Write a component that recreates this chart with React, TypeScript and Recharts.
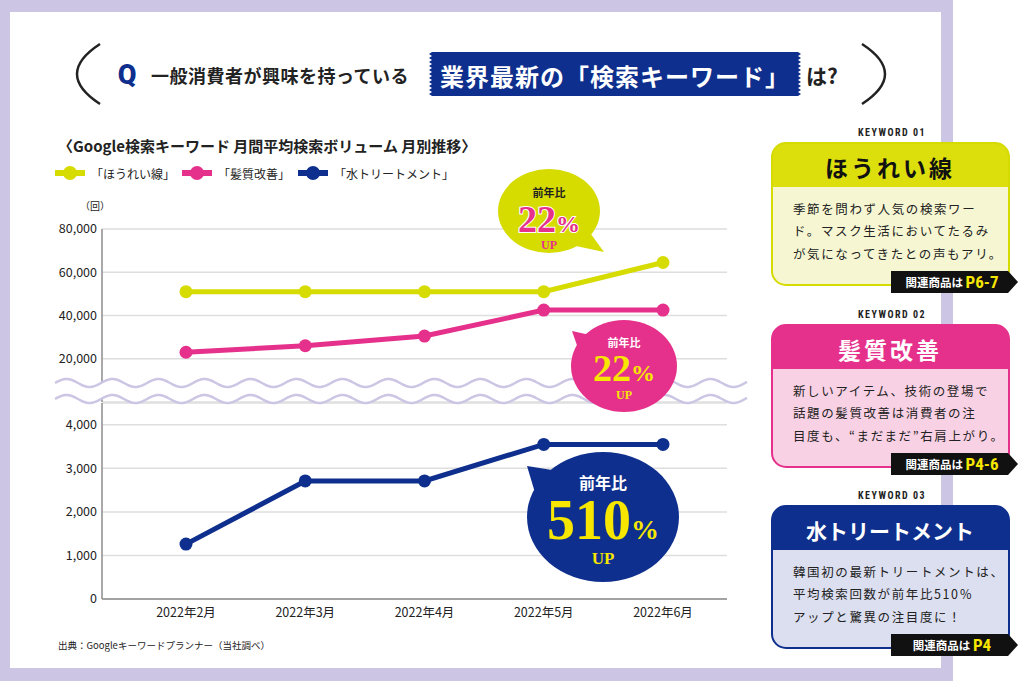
import { LineChart, Line, XAxis, YAxis, CartesianGrid } from 'recharts';

// chart values
const months = ['2022年2月', '2022年3月', '2022年4月', '2022年5月', '2022年6月'];
const houreisen = [51000, 51000, 51000, 51000, 64500];
const kamishitsu = [23000, 26000, 30500, 42500, 42500];
const mizuTreatment = [1260, 2710, 2710, 3550, 3550];
const upperTicks = [20000, 40000, 60000, 80000];
const lowerTicks = [0, 1000, 2000, 3000, 4000];
const seriesNames = ['「ほうれい線」', '「髪質改善」', '「水トリートメント」'];

const YELLOW = '#d6db00';
const PINK = '#e5318b';
const NAVY = '#0e2f8d';
const LAVENDER = '#ccc5e3';
const BUBBLE_YELLOW = '#f7e600';
const JP = "'Noto Sans CJK JP', 'Noto Sans', sans-serif";
const NARROW = "'Liberation Sans Narrow', 'Roboto Condensed', 'Noto Sans CJK JP', sans-serif";
const SERIF = "'Liberation Serif', 'DejaVu Serif', serif";

const upperData = months.map((m, i) => ({ month: m, hourei: houreisen[i], kami: kamishitsu[i] }));
const lowerData = months.map((m, i) => ({ month: m, mizu: mizuTreatment[i] }));

const fmt = (v: number) => v.toLocaleString('en-US');
const tickStyle = { fontSize: 12.5, fill: '#222', fontFamily: JP };
const axisStyle = { stroke: '#8c8c8c', strokeWidth: 1.5 };

const cards = [
  {
    kw: 'KEYWORD 01', title: 'ほうれい線', page: 'P6-7', top: 143,
    head: '#dcdf0c', body: '#f6f6d2', border: '#d5da00', titleColor: '#111',
    lines: ['季節を問わず人気の検索ワー', 'ド。マスク生活においてたるみ', 'が気になってきたとの声もアリ。'],
  },
  {
    kw: 'KEYWORD 02', title: '髪質改善', page: 'P4-6', top: 325,
    head: PINK, body: '#f9d1e4', border: PINK, titleColor: '#fff',
    lines: ['新しいアイテム、技術の登場で', '話題の髪質改善は消費者の注', '目度も、“まだまだ”右肩上がり。'],
  },
  {
    kw: 'KEYWORD 03', title: '水トリートメント', page: 'P4', top: 506,
    head: NAVY, body: '#dcdff0', border: NAVY, titleColor: '#fff',
    lines: ['韓国初の最新トリートメントは、', '平均検索回数が前年比510％', 'アップと驚異の注目度に！'],
  },
];

function wavePoints(y: number) {
  const pts: number[][] = [];
  for (let x = 55; x <= 748; x += 2) {
    pts.push([x, y - 4 * Math.sin(((x - 55) / 46) * 2 * Math.PI)]);
  }
  return pts;
}

function bannerPoints() {
  const top = 52, bottom = 96, l = 432, r = 798;
  const pts: number[][] = [[l, top], [r, top]];
  for (let y = top; y < bottom; y += 4) pts.push([r + 3, y + 2], [r, y + 4]);
  pts.push([l, bottom]);
  for (let y = bottom; y > top; y -= 4) pts.push([l - 3, y - 2], [l, y - 4]);
  return pts.map(p => p.join(',')).join(' ');
}

function Bubble({ cx, cy, rx, ry, tail, fill, head, headColor, num, numSize, pct, pctSize, numColor, up, upSize, numY, upY, headY, headSize, outline }: any) {
  return (
    <g>
      <polygon points={tail} fill={fill} />
      <ellipse cx={cx} cy={cy} rx={rx} ry={ry} fill={fill} />
      <text x={cx} y={headY} textAnchor="middle" dominantBaseline="central" fontFamily={JP} fontWeight={700} fontSize={headSize} fill={headColor}>{head}</text>
      <text x={cx} y={numY} textAnchor="middle" fontFamily={SERIF} fontWeight={700} fill={numColor}
        stroke={outline ? '#fff' : 'none'} strokeWidth={outline ? 2 : 0} paintOrder="stroke">
        <tspan fontSize={numSize}>{num}</tspan>
        <tspan fontSize={pctSize}>{pct}</tspan>
      </text>
      <text x={cx} y={upY} textAnchor="middle" fontFamily={SERIF} fontWeight={700} fontSize={upSize} fill={numColor}>{up}</text>
    </g>
  );
}

export default function App() {
  const w1 = wavePoints(383);
  const w2 = wavePoints(399);
  const toD = (pts: number[][]) => 'M' + pts.map(p => `${p[0]} ${p[1].toFixed(1)}`).join(' L');
  const band = toD(w1) + ' L' + [...w2].reverse().map(p => `${p[0]} ${p[1].toFixed(1)}`).join(' L') + ' Z';
  const legendX = [55, 182, 298];
  const colors = [YELLOW, PINK, NAVY];

  return (
    <div style={{ position: 'absolute', left: 0, top: 0, width: 1019, height: 681, overflow: 'hidden', background: '#fff' }}>
      <svg width={1019} height={681} style={{ position: 'absolute', left: 0, top: 0 }}>
        <rect x={0} y={0} width={953} height={681} fill={LAVENDER} />
        <rect x={10} y={12} width={931} height={656} fill="#fff" />
      </svg>

      <div style={{ position: 'absolute', left: 0, top: 0 }}>
        <LineChart width={760} height={420} data={upperData} margin={{ top: 229, right: 33, bottom: 18, left: 0 }}>
          <CartesianGrid vertical={false} stroke="#dedede" strokeWidth={1.5} />
          <XAxis dataKey="month" hide scale="point" padding={{ left: 84, right: 64 }} />
          <YAxis width={102} domain={[0, 80000]} ticks={upperTicks} interval={0} tickFormatter={fmt}
            axisLine={axisStyle} tickLine={false} tickSize={0} tickMargin={5} tick={tickStyle} />
          <Line dataKey="hourei" stroke={YELLOW} strokeWidth={5} isAnimationActive={false} activeDot={false}
            dot={{ r: 6.5, fill: YELLOW, stroke: YELLOW, strokeWidth: 0 }} />
          <Line dataKey="kami" stroke={PINK} strokeWidth={5} isAnimationActive={false} activeDot={false}
            dot={{ r: 6.5, fill: PINK, stroke: PINK, strokeWidth: 0 }} />
        </LineChart>
      </div>

      <div style={{ position: 'absolute', left: 0, top: 0 }}>
        <LineChart width={760} height={681} data={lowerData} margin={{ top: 403, right: 33, bottom: 52, left: 0 }}>
          <CartesianGrid vertical={false} stroke="#dedede" strokeWidth={1.5} />
          <XAxis dataKey="month" scale="point" padding={{ left: 84, right: 64 }} height={30}
            axisLine={axisStyle} tickLine={false} tickSize={6} tickMargin={3} tick={tickStyle} interval={0} />
          <YAxis width={102} domain={[0, 4500]} ticks={lowerTicks} interval={0} tickFormatter={fmt}
            axisLine={axisStyle} tickLine={false} tickSize={0} tickMargin={5} tick={tickStyle} />
          <Line dataKey="mizu" stroke={NAVY} strokeWidth={5} isAnimationActive={false} activeDot={false}
            dot={{ r: 6.5, fill: NAVY, stroke: NAVY, strokeWidth: 0 }} />
        </LineChart>
      </div>

      <svg width={1019} height={681} style={{ position: 'absolute', left: 0, top: 0, pointerEvents: 'none' }}>
        {/* header */}
        <path d="M100 44 Q54 74 100 104" fill="none" stroke="#222" strokeWidth={2.5} />
        <path d="M862 44 Q908 74 862 104" fill="none" stroke="#222" strokeWidth={2.5} />
        <text x={127} y={75} textAnchor="middle" dominantBaseline="central" fontFamily="Roboto, sans-serif" fontWeight={900} fontSize={27} fill={NAVY}>Q</text>
        <text x={151} y={75} dominantBaseline="central" fontFamily={JP} fontWeight={700} fontSize={18} letterSpacing={0.5} fill="#222">一般消費者が興味を持っている</text>
        <polygon points={bannerPoints()} fill={NAVY} />
        <text x={615} y={75} textAnchor="middle" dominantBaseline="central" fontFamily={JP} fontWeight={700} fontSize={24} letterSpacing={1} fill="#fff">業界最新の「検索キーワード」</text>
        <text x={806} y={75} dominantBaseline="central" fontFamily={JP} fontWeight={700} fontSize={21} fill="#222">は?</text>

        {/* chart title + legend */}
        <text x={58} y={145} dominantBaseline="central" fontFamily={JP} fontWeight={700} fontSize={15} fill="#222">〈Google検索キーワード 月間平均検索ボリューム 月別推移〉</text>
        {seriesNames.map((n, i) => (
          <g key={n}>
            <line x1={legendX[i]} x2={legendX[i] + 30} y1={173} y2={173} stroke={colors[i]} strokeWidth={6} />
            <circle cx={legendX[i] + 15} cy={173} r={7} fill={colors[i]} />
            <text x={legendX[i] + 36} y={173} dominantBaseline="central" fontFamily={JP} fontSize={12} fill="#222">{n}</text>
          </g>
        ))}
        <text x={80} y={205} dominantBaseline="central" fontFamily={JP} fontSize={10} fill="#222">（回）</text>
        <text x={58} y={645} dominantBaseline="central" fontFamily={JP} fontSize={9.5} fill="#222">出典：Googleキーワードプランナー（当社調べ）</text>

        {/* axis break */}
        <path d={band} fill="#fff" />
        <path d={toD(w1)} fill="none" stroke={LAVENDER} strokeWidth={2.5} />
        <path d={toD(w2)} fill="none" stroke={LAVENDER} strokeWidth={2.5} />

        {/* callouts */}
        <Bubble cx={549} cy={211} rx={51} ry={42} tail="588,230 604,252 576,246" fill={YELLOW}
          head="前年比" headColor="#222" headY={192} headSize={11}
          num="22" numSize={38} pct="%" pctSize={24} numColor={PINK} numY={232} outline
          up="UP" upSize={12} upY={249} />
        <Bubble cx={624} cy={366} rx={53} ry={46} tail="590,335 572,331 580,354" fill={PINK}
          head="前年比" headColor="#fff" headY={342} headSize={11}
          num="22" numSize={38} pct="%" pctSize={24} numColor={BUBBLE_YELLOW} numY={381}
          up="UP" upSize={12} upY={399} />
        <Bubble cx={603} cy={517} rx={76} ry={65} tail="552,470 527,466 536,496" fill={NAVY}
          head="前年比" headColor="#fff" headY={482} headSize={16}
          num="510" numSize={56} pct="%" pctSize={28} numColor={BUBBLE_YELLOW} numY={539}
          up="UP" upSize={17} upY={564} />

        {/* keyword cards */}
        {cards.map((c, i) => (
          <g key={c.kw}>
            <defs>
              <clipPath id={`card${i}`}>
                <rect x={772} y={c.top} width={237} height={142} rx={14} />
              </clipPath>
            </defs>
            <text x={892} y={c.top - 11} textAnchor="middle" dominantBaseline="central" fontFamily={NARROW} fontWeight={700} fontSize={10} letterSpacing={1.5} fill="#222">{c.kw}</text>
            <g clipPath={`url(#card${i})`}>
              <rect x={772} y={c.top} width={237} height={142} fill={c.body} />
              <rect x={772} y={c.top} width={237} height={44} fill={c.head} />
            </g>
            <rect x={772} y={c.top} width={237} height={142} rx={14} fill="none" stroke={c.border} strokeWidth={2} />
            <text x={890} y={c.top + 24} textAnchor="middle" dominantBaseline="central" fontFamily={JP} fontWeight={700}
              fontSize={i === 2 ? 21 : 23} letterSpacing={i === 2 ? 0 : 3} fill={c.titleColor}>{c.title}</text>
            {c.lines.map((l, j) => (
              <text key={j} x={793} y={c.top + 65 + j * 22.5} dominantBaseline="central" fontFamily={JP} fontSize={12.5} letterSpacing={1.6} fill="#222">{l}</text>
            ))}
            <polygon points={`891,${c.top + 128} 1008,${c.top + 128} 1018,${c.top + 139} 1008,${c.top + 150} 891,${c.top + 150}`} fill="#111" />
            <text x={952} y={c.top + 139} textAnchor="middle" dominantBaseline="central" fontWeight={700}>
              <tspan fontFamily={JP} fontSize={11.5} fill="#fff">関連商品は </tspan>
              <tspan fontFamily={NARROW} fontSize={17} fill={BUBBLE_YELLOW}>{c.page}</tspan>
            </text>
          </g>
        ))}
      </svg>
    </div>
  );
}
